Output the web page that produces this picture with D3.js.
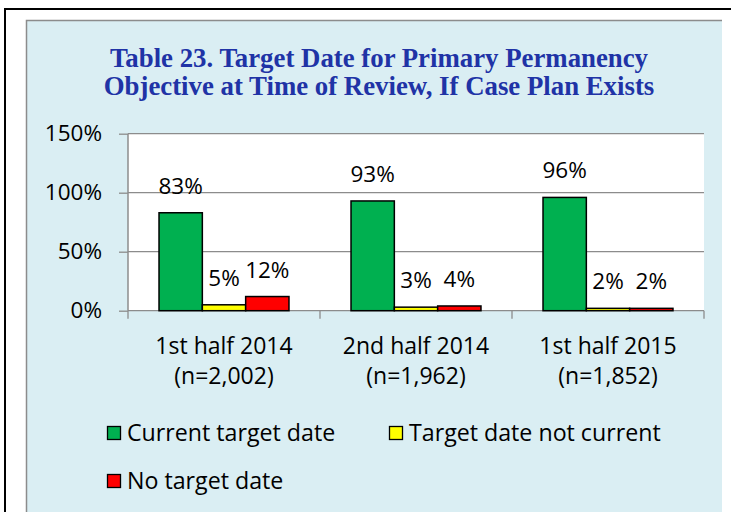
<!DOCTYPE html>
<html lang="en">
<head>
<meta charset="utf-8">
<title>Table 23</title>
<script src="https://d3js.org/d3.v7.min.js"></script>
<style>
  body { margin: 0; background: #fff; }
  svg text { font-family: "Open Sans", "Noto Sans", sans-serif; }
</style>
</head>
<body>
<div id="chart"></div>
<script>
// data
var categories = ["1st half 2014", "2nd half 2014", "1st half 2015"];
var sizes = ["(n=2,002)", "(n=1,962)", "(n=1,852)"];
var seriesNames = ["Current target date", "Target date not current", "No target date"];
var seriesColors = ["#00B050", "#FFFF00", "#FF0000"];
var current = [0.83, 0.93, 0.96];
var notCurrent = [0.05, 0.03, 0.02];
var noDate = [0.12, 0.04, 0.02];
var yTicks = [0, 0.5, 1, 1.5];

var W = 731, H = 512;
var svg = d3.select("#chart").append("svg")
    .attr("width", W).attr("height", H);

// outer frame
svg.append("line").attr("x1", 4).attr("x2", W).attr("y1", 9).attr("y2", 9)
    .attr("stroke", "#000").attr("stroke-width", 2);
svg.append("line").attr("x1", 5).attr("x2", 5).attr("y1", 8).attr("y2", H)
    .attr("stroke", "#000").attr("stroke-width", 2);

// chart panel
svg.append("rect").attr("x", 26).attr("y", 20).attr("width", 696).attr("height", H)
    .attr("fill", "#DAEEF3");
svg.append("path").attr("d", "M26.5," + H + "V20.5H722")
    .attr("fill", "none").attr("stroke", "#8C8C8C").attr("stroke-width", 1.5);

// title
var title = svg.append("text")
    .attr("text-anchor", "middle")
    .style("font-family", "'Liberation Serif', 'Times New Roman', serif")
    .style("font-weight", "bold")
    .style("font-size", "26.8px")
    .attr("fill", "#2033A6");
title.append("tspan").attr("x", 379).attr("y", 67).text("Table 23. Target Date for Primary Permanency");
title.append("tspan").attr("x", 379).attr("y", 95).text("Objective at Time of Review, If Case Plan Exists");

var x0 = d3.scaleBand().domain(categories).range([128, 704]);
var x1 = d3.scaleBand().domain(seriesNames).range([0, x0.bandwidth()]).paddingOuter(0.716);
var y = d3.scaleLinear().domain([0, 1.5]).range([310.7, 133.7]);

// plot area
svg.append("rect").attr("x", 128).attr("y", y(1.5))
    .attr("width", 704 - 128).attr("height", y(0) - y(1.5)).attr("fill", "#fff");

// gridlines
svg.append("g").selectAll("line").data(yTicks).join("line")
    .attr("x1", 128).attr("x2", 704)
    .attr("y1", function(d) { return y(d); }).attr("y2", function(d) { return y(d); })
    .attr("stroke", "#8C8C8C").attr("stroke-width", 1.3);

// y axis
var yAxis = svg.append("g").attr("transform", "translate(128,0)")
    .call(d3.axisLeft(y).tickValues(yTicks).tickSize(9).tickPadding(17)
        .tickFormat(d3.format(".0%")));
yAxis.select(".domain").remove();
yAxis.selectAll("line").attr("stroke", "#8C8C8C").attr("stroke-width", 1.3);
yAxis.selectAll("text").style("font-size", "22.5px").attr("fill", "#000")
    .style("font-family", "'Open Sans', sans-serif");
svg.append("line").attr("x1", 128).attr("x2", 128).attr("y1", y(1.5)).attr("y2", y(0))
    .attr("stroke", "#8C8C8C").attr("stroke-width", 1.5);

// x axis ticks
var xEdges = categories.map(function(c) { return x0(c); }).concat([704]);
svg.append("g").selectAll("line").data(xEdges).join("line")
    .attr("x1", function(d) { return d; }).attr("x2", function(d) { return d; })
    .attr("y1", y(0)).attr("y2", y(0) + 8)
    .attr("stroke", "#8C8C8C").attr("stroke-width", 1.3);

// category labels
var catLab = svg.append("g").selectAll("text").data(categories).join("text")
    .attr("text-anchor", "middle").style("font-size", "23px").attr("fill", "#000");
catLab.append("tspan").attr("x", function(d) { return x0(d) + x0.bandwidth() / 2; })
    .attr("y", 353.5).text(function(d) { return d; });
catLab.append("tspan").attr("x", function(d) { return x0(d) + x0.bandwidth() / 2; })
    .attr("y", 383.5).text(function(d, i) { return sizes[i]; });

// bars
var series = [current, notCurrent, noDate];
var rows = [];
categories.forEach(function(c, i) {
  seriesNames.forEach(function(s, j) {
    rows.push({ cat: c, name: s, color: seriesColors[j], value: series[j][i] });
  });
});

svg.append("g").selectAll("rect").data(rows).join("rect")
    .attr("x", function(d) { return x0(d.cat) + x1(d.name); })
    .attr("y", function(d) { return y(d.value); })
    .attr("width", x1.bandwidth())
    .attr("height", function(d) { return y(0) - y(d.value); })
    .attr("fill", function(d) { return d.color; })
    .attr("stroke", "#000").attr("stroke-width", 1.5);

svg.append("g").selectAll("text").data(rows).join("text")
    .attr("x", function(d) { return x0(d.cat) + x1(d.name) + x1.bandwidth() / 2; })
    .attr("y", function(d) { return y(d.value) - 19; })
    .attr("text-anchor", "middle").style("font-size", "22.5px").attr("fill", "#000")
    .text(function(d) { return d3.format(".0%")(d.value); });

// legend
var legendPos = [[107, 433], [389, 433], [107, 481]];
var leg = svg.append("g").selectAll("g").data(seriesNames).join("g")
    .attr("transform", function(d, i) { return "translate(" + legendPos[i][0] + "," + legendPos[i][1] + ")"; });
leg.append("rect").attr("x", 0.5).attr("y", -6.5).attr("width", 13).attr("height", 13)
    .attr("fill", function(d, i) { return seriesColors[i]; })
    .attr("stroke", "#000").attr("stroke-width", 1.3);
leg.append("text").attr("x", 20).attr("y", 0).attr("dy", "0.36em")
    .style("font-size", "23.2px").attr("fill", "#000")
    .text(function(d) { return d; });
</script>
</body>
</html>
